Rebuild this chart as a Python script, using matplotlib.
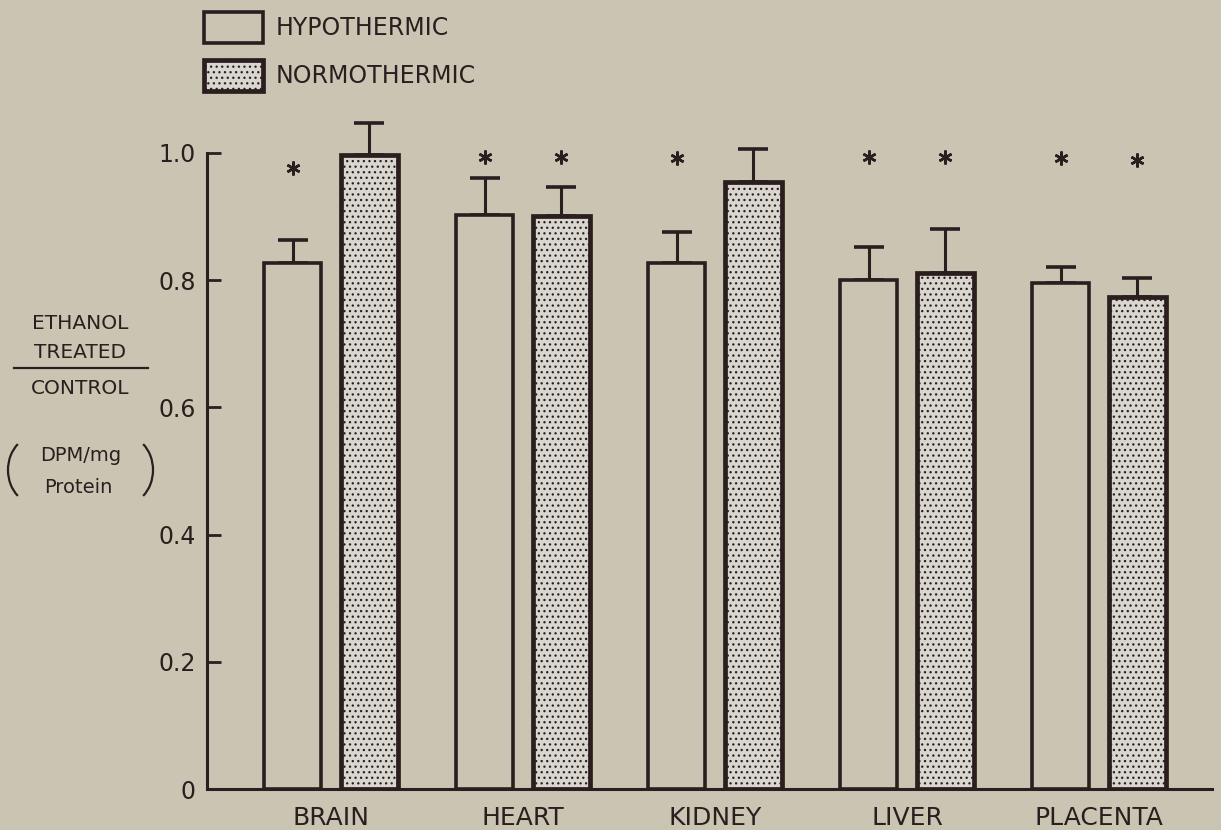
import matplotlib
matplotlib.use("Agg")
import matplotlib.pyplot as plt
from matplotlib.patches import Arc
import numpy as np

# ---------------- data ----------------
organs = ["BRAIN", "HEART", "KIDNEY", "LIVER", "PLACENTA"]
hypo = [0.827, 0.903, 0.827, 0.800, 0.796]
hypo_err = [0.036, 0.058, 0.049, 0.052, 0.025]
normo = [0.997, 0.901, 0.954, 0.811, 0.774]
normo_err = [0.050, 0.046, 0.052, 0.069, 0.029]
# significance stars (None = no star)
hypo_star = [0.976, 0.994, 0.992, 0.993, 0.992]
normo_star = [None, 0.994, None, 0.993, 0.989]
yticks = [0, 0.2, 0.4, 0.6, 0.8, 1.0]
ytick_labels = ["0", "0.2", "0.4", "0.6", "0.8", "1.0"]

bg = "#cac5b3"
ink = "#2a1e1e"
plt.rcParams["font.family"] = ["DejaVu Sans"]
plt.rcParams["hatch.linewidth"] = 0.9

W, H = 1221, 830
fig = plt.figure(figsize=(W / 100, H / 100), dpi=100, facecolor=bg)
ax = fig.add_axes([207 / W, 41 / H, 1005 / W, 636 / H])
ax.set_facecolor(bg)

x = np.arange(len(organs))
off = 0.2
bw = 0.3

ax.bar(x - off, hypo, bw, color=bg, edgecolor=ink, linewidth=2.6, zorder=3,
       label="HYPOTHERMIC")
ax.bar(x + off, normo, bw, color="#d8d6ce", edgecolor=ink, linewidth=3.4,
       hatch="...", zorder=3, label="NORMOTHERMIC")

ax.errorbar(x - off, hypo, yerr=[np.zeros(len(x)), hypo_err], fmt="none",
            ecolor=ink, elinewidth=2.2, capsize=11, capthick=2.6, zorder=2,
            clip_on=False)
ax.errorbar(x + off, normo, yerr=[np.zeros(len(x)), normo_err], fmt="none",
            ecolor=ink, elinewidth=2.2, capsize=11, capthick=2.6, zorder=2,
            clip_on=False)

for i in range(len(organs)):
    if hypo_star[i] is not None:
        ax.plot(x[i] - off, hypo_star[i], marker=(6, 2, 0), ms=10, mew=1.8,
                color=ink, clip_on=False)
    if normo_star[i] is not None:
        ax.plot(x[i] + off, normo_star[i], marker=(6, 2, 0), ms=10, mew=1.8,
                color=ink, clip_on=False)

ax.set_xlim(-0.646, 4.589)
ax.set_ylim(0, 1.0)
ax.set_yticks(yticks)
ax.set_yticklabels(ytick_labels, fontsize=17, color=ink)
ax.tick_params(axis="y", direction="in", length=10, width=2, color=ink, pad=8)
ax.set_xticks(x)
ax.set_xticklabels(organs, fontsize=18, color=ink)
ax.tick_params(axis="x", length=0, pad=12)
for s in ["top", "right"]:
    ax.spines[s].set_visible(False)
for s in ["left", "bottom"]:
    ax.spines[s].set_color(ink)
    ax.spines[s].set_linewidth(2.2)

# legend
ax.legend(loc="upper left", bbox_to_anchor=(204 / W, 1 - 12 / H),
          bbox_transform=fig.transFigure, frameon=False, fontsize=17,
          handlelength=2.5, handleheight=1.65, handletextpad=0.55,
          labelspacing=0.72, borderpad=0, borderaxespad=0, labelcolor=ink)

# y label block
def px(xp, yp):
    return xp / W, 1 - yp / H

fs = 14.5
fig.text(*px(80, 323), "ETHANOL", ha="center", va="center", fontsize=fs, color=ink)
fig.text(*px(80, 352), "TREATED", ha="center", va="center", fontsize=fs, color=ink)
fig.add_artist(plt.Line2D([14 / W, 148 / W], [1 - 368 / H] * 2, color=ink, lw=1.6))
fig.text(*px(80, 388), "CONTROL", ha="center", va="center", fontsize=fs, color=ink)
fig.text(*px(81, 455), "DPM/mg", ha="center", va="center", fontsize=14, color=ink)
fig.text(*px(78, 487), "Protein", ha="center", va="center", fontsize=14, color=ink)
fig.add_artist(Arc((0.36, (H - 470) / 100), 0.56, 0.68, theta1=125, theta2=235,
                   transform=fig.dpi_scale_trans, color=ink, lw=1.6))
fig.add_artist(Arc((1.25, (H - 470) / 100), 0.56, 0.68, theta1=-55, theta2=55,
                   transform=fig.dpi_scale_trans, color=ink, lw=1.6))

fig.savefig("out.png", dpi=100, facecolor=bg)
